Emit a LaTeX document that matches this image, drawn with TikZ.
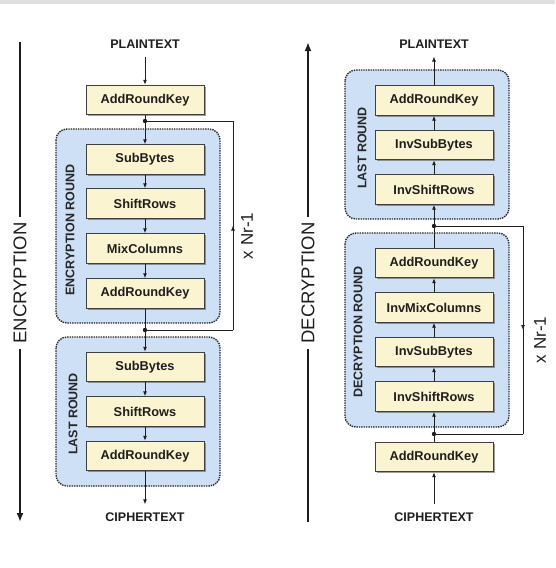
\documentclass[tikz,border=0pt]{standalone}
\usepackage{fontspec}
\setmainfont{Liberation Sans}
\usetikzlibrary{arrows.meta,shadows,decorations.markings}

\definecolor{boxyellow}{RGB}{251,244,208}
\definecolor{roundblue}{RGB}{205,224,245}
\definecolor{inkgray}{RGB}{30,30,30}

\tikzset{
  stagebox/.style={draw=black!75, line width=0.9pt, fill=boxyellow, minimum width=118pt, minimum height=29.5pt, inner sep=0pt,
    font=\bfseries\fontsize{12.8}{14}\selectfont, text=inkgray,
    drop shadow={shadow xshift=1.6pt, shadow yshift=-1.6pt, fill=black!70, opacity=.55}},
  roundbox/.style={draw=black!85, line width=1.4pt, densely dotted, rounded corners=11pt, fill=roundblue},
  roundtag/.style={rotate=90, font=\bfseries\fontsize{12.5}{14}\selectfont, text=black!85},
  iotag/.style={font=\bfseries\fontsize{12.5}{14}\selectfont, text=inkgray, inner ysep=8pt},
  sidetag/.style={rotate=90, font=\fontsize{18.5}{20}\selectfont, text=inkgray, inner sep=5pt},
  looptag/.style={rotate=90, font=\fontsize{17}{19}\selectfont, text=inkgray},
  wire/.style={draw=inkgray, line width=0.9pt},
  flow/.style={wire, -{Latex[length=5pt,width=4pt]}},
  midarrow/.style={postaction={decorate}, decoration={markings,
    mark=at position 0.5 with {\arrow{Latex[length=5pt,width=4pt]}}}},
  bigline/.style={draw=inkgray, line width=1.9pt},
}

\begin{document}
\begin{tikzpicture}[x=1pt,y=-1pt]
\useasboundingbox (0,0) rectangle (555,568);
\fill[black!12] (0,0) rectangle (555,4);

%--------------------------------------------------- round backgrounds
\draw[roundbox] (56,129) rectangle (220,323);
\draw[roundbox] (56,337) rectangle (220,486);
\draw[roundbox] (345,70) rectangle (509,219);
\draw[roundbox] (345,233) rectangle (509,427);

%--------------------------------------------------- encryption side
\node[iotag] (ptE) at (145,44) {PLAINTEXT};
\node[stagebox] (arkE0) at (145,100) {AddRoundKey};
\node[stagebox] (sbE1) at (145,159.5) {SubBytes};
\node[stagebox] (srE1) at (145,203.5) {ShiftRows};
\node[stagebox] (mcE1) at (145,248.5) {MixColumns};
\node[stagebox] (arkE1) at (145,293.5) {AddRoundKey};
\node[stagebox] (sbE2) at (145,367) {SubBytes};
\node[stagebox] (srE2) at (145,411.5) {ShiftRows};
\node[stagebox] (arkE2) at (145,456) {AddRoundKey};
\node[iotag] (ctE) at (145,517) {CIPHERTEXT};
\node[roundtag] (tagE1) at (70,230) {ENCRYPTION ROUND};
\node[roundtag] (tagE2) at (73,414) {LAST ROUND};
\node[looptag] (nrE) at (247,236) {x Nr-1};

\coordinate (splitE) at (145,121);
\coordinate (joinE) at (145,330);
\coordinate (loopEt) at (233,121);
\coordinate (loopEb) at (233,330);

\draw[flow] (ptE) -- (arkE0);
\draw[flow] (arkE0) -- (sbE1);
\draw[flow] (sbE1) -- (srE1);
\draw[flow] (srE1) -- (mcE1);
\draw[flow] (mcE1) -- (arkE1);
\draw[flow] (arkE1) -- (sbE2);
\draw[flow] (sbE2) -- (srE2);
\draw[flow] (srE2) -- (arkE2);
\draw[flow] (arkE2) -- (ctE);
\draw[wire] (joinE) -- (loopEb);
\draw[wire,midarrow] (loopEb) -- (loopEt);
\draw[wire] (loopEt) -- (splitE);
\fill[inkgray] (splitE) circle (2.2pt);
\fill[inkgray] (joinE) circle (2.2pt);

%--------------------------------------------------- decryption side
\node[iotag] (ptD) at (434,44) {PLAINTEXT};
\node[stagebox] (arkD2) at (434,100.5) {AddRoundKey};
\node[stagebox] (isbD2) at (434,145) {InvSubBytes};
\node[stagebox] (isrD2) at (434,189.5) {InvShiftRows};
\node[stagebox] (arkD1) at (434,263) {AddRoundKey};
\node[stagebox] (imcD1) at (434,307.5) {InvMixColumns};
\node[stagebox] (isbD1) at (434,352) {InvSubBytes};
\node[stagebox] (isrD1) at (434,396.5) {InvShiftRows};
\node[stagebox] (arkD0) at (434,457) {AddRoundKey};
\node[iotag] (ctD) at (434,517) {CIPHERTEXT};
\node[roundtag] (tagD2) at (362,148) {LAST ROUND};
\node[roundtag] (tagD1) at (358,332) {DECRYPTION ROUND};
\node[looptag] (nrD) at (540,340) {x Nr-1};

\coordinate (splitD) at (434,226);
\coordinate (joinD) at (434,434);
\coordinate (loopDt) at (523,226);
\coordinate (loopDb) at (523,434);

\draw[flow] (ctD) -- (arkD0);
\draw[flow] (arkD0) -- (isrD1);
\draw[flow] (isrD1) -- (isbD1);
\draw[flow] (isbD1) -- (imcD1);
\draw[flow] (imcD1) -- (arkD1);
\draw[flow] (arkD1) -- (isrD2);
\draw[flow] (isrD2) -- (isbD2);
\draw[flow] (isbD2) -- (arkD2);
\draw[flow] (arkD2) -- (ptD);
\draw[wire] (splitD) -- (loopDt);
\draw[wire,midarrow] (loopDt) -- (loopDb);
\draw[wire] (loopDb) -- (joinD);
\fill[inkgray] (splitD) circle (2.2pt);
\fill[inkgray] (joinD) circle (2.2pt);

%--------------------------------------------------- side arrows
\node[sidetag] (encr) at (20,283) {ENCRYPTION};
\node[sidetag] (decr) at (308,283) {DECRYPTION};
\coordinate (encrTop) at (20,42);
\coordinate (encrBot) at (20,522);
\coordinate (decrTop) at (308,42);
\coordinate (decrBot) at (308,522);
\draw[bigline] (encrTop) -- (encr.east);
\draw[bigline,-{Latex[length=9pt,width=7pt]}] (encr.west) -- (encrBot);
\draw[bigline] (decrBot) -- (decr.west);
\draw[bigline,-{Latex[length=9pt,width=7pt]}] (decr.east) -- (decrTop);

\end{tikzpicture}
\end{document}
